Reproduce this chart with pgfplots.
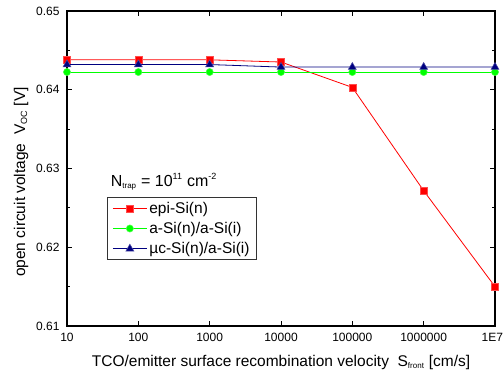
\documentclass[border=0pt]{standalone}
\usepackage{fontspec}
\setmainfont{Liberation Sans}
\usepackage{pgfplots}
\pgfplotsset{compat=1.18}

\definecolor{epired}{RGB}{255,0,0}
\definecolor{agreen}{RGB}{0,255,0}
\definecolor{ucnavy}{RGB}{0,0,128}

\begin{document}
\begin{tikzpicture}
\path[use as bounding box] (-67pt,-48pt) rectangle (437pt,326pt);
\begin{axis}[
  scale only axis,
  width=428pt, height=315pt,
  at={(0pt,0pt)}, anchor=south west,
  xmode=log, log basis x=10,
  xmin=10, xmax=1e7,
  ymin=0.61, ymax=0.65,
  xtick={10,100,1000,10000,100000,1000000,10000000},
  xticklabels={10,100,1000,10000,100000,1000000,\makebox[0pt][r]{1E7\hspace{-8pt}}},
  ytick={0.61,0.62,0.63,0.64,0.65},
  yticklabels={0.61,0.62,0.63,0.64,0.65},
  minor ytick={0.615,0.625,0.635,0.645},
  tick align=inside,
  major tick length=5pt,
  minor tick length=3pt,
  axis line style={line width=1.1pt},
  every tick/.style={black, line width=0.9pt},
  tick label style={font=\fontsize{12}{14}\selectfont},
  xticklabel style={yshift=-4pt},
  yticklabel style={xshift=-4pt},
  xlabel={TCO/emitter surface recombination velocity\ \ S\textsubscript{\fontsize{8}{9}\selectfont front} [cm/s]},
  ylabel={open circuit voltage\ \ V\textsubscript{\fontsize{9}{10}\selectfont OC} [V]},
  label style={font=\fontsize{15.5}{17}\selectfont},
  xlabel style={yshift=-6pt},
  ylabel style={at={(ticklabel cs:0.457)}, yshift=1pt},
  legend style={
    at={(rel axis cs:0.0935,0.4095)}, anchor=north west,
    draw=black!80, line width=0.8pt,
    font=\fontsize{15.5}{17}\selectfont,
    row sep=3.5pt, inner xsep=5pt, inner ysep=2.5pt,
    /tikz/every even column/.append style={column sep=4pt},
  },
  legend cell align=left,
  legend image code/.code={
    \draw[#1, mark repeat=2, mark phase=2] plot coordinates {(0cm,0cm) (0.6cm,0cm) (1.2cm,0cm)};
  },
]
\addplot[color=epired, line width=0.8pt, mark=square*, mark size=3.5pt,
  mark options={fill=epired, draw=epired!70!white, line width=0.5pt}]
  coordinates {
    (10,0.6438) (100,0.6438) (1000,0.6438) (10000,0.64352)
    (100000,0.6403) (1000000,0.62718) (10000000,0.6150)
  };
\addlegendentry{epi-Si(n)}
\addplot[color=agreen, line width=0.8pt, mark=*, mark size=3.6pt,
  mark options={fill=agreen, draw=agreen!70!white, line width=0.5pt}]
  coordinates {
    (10,0.64225) (100,0.64225) (1000,0.64225) (10000,0.64225)
    (100000,0.64225) (1000000,0.64225) (10000000,0.64225)
  };
\addlegendentry{a-Si(n)/a-Si(i)}
\addplot[color=ucnavy, line width=0.8pt, mark=triangle*, mark size=4.6pt,
  mark options={fill=ucnavy, draw=ucnavy!70!white, line width=0.5pt}]
  coordinates {
    (10,0.6432) (100,0.6432) (1000,0.6432) (10000,0.64288)
    (100000,0.64288) (1000000,0.64288) (10000000,0.64288)
  };
\addlegendentry{\textmu c-Si(n)/a-Si(i)}
\node[anchor=base west, font=\fontsize{16}{18}\selectfont, inner sep=0pt]
  at (rel axis cs:0.102,0.444)
  {N\textsubscript{\fontsize{8}{9}\selectfont trap} = 10\textsuperscript{\fontsize{9}{10}\selectfont 11} cm\textsuperscript{\fontsize{9}{10}\selectfont -2}};
\end{axis}
\end{tikzpicture}
\end{document}
